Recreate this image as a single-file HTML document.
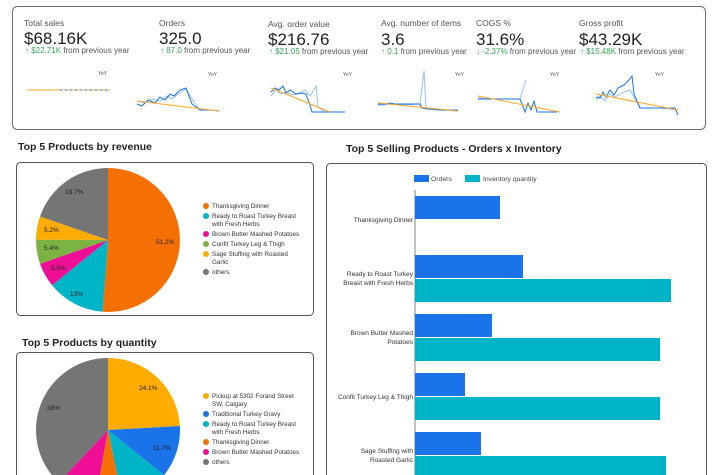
<!DOCTYPE html>
<html><head><meta charset="utf-8"><style>
html,body{margin:0;background:#fff;width:717px;height:475px;overflow:hidden;}
svg{display:block;font-family:"Liberation Sans",Arial,sans-serif;}
</style></head><body>
<svg width="717" height="475" viewBox="0 0 717 475">
<rect x="12.5" y="6.5" width="693" height="123" rx="5" fill="#fff" stroke="#6b6b6b" stroke-width="1"/>
<g font-size="8.5" fill="#555">
<text x="24" y="26">Total sales</text><text x="159" y="26">Orders</text><text x="268" y="27">Avg. order value</text>
<text x="381" y="26">Avg. number of items</text><text x="476" y="26">COGS %</text><text x="579" y="26">Gross profit</text>
</g>
<g font-size="17" fill="#222">
<text x="24" y="44">$68.16K</text><text x="159" y="44">325.0</text><text x="268" y="45">$216.76</text>
<text x="381" y="45">3.6</text><text x="476" y="45">31.6%</text><text x="579" y="45">$43.29K</text>
</g>
<g font-size="8" fill="#555">
<text x="25" y="53"><tspan fill="#34a853">↑ $22.71K</tspan> from previous year</text>
<text x="160" y="53"><tspan fill="#34a853">↑ 87.0</tspan> from previous year</text>
<text x="269" y="54"><tspan fill="#34a853">↑ $21.05</tspan> from previous year</text>
<text x="381" y="54"><tspan fill="#34a853">↑ 0.1</tspan> from previous year</text>
<text x="476" y="54"><tspan fill="#34a853">↓ -2.37%</tspan> from previous year</text>
<text x="580" y="54"><tspan fill="#34a853">↑ $15.48K</tspan> from previous year</text>
</g>
<g font-size="5" fill="#555">
<text x="98" y="75">YoY</text><text x="208" y="76">YoY</text><text x="343" y="76">YoY</text>
<text x="455" y="76">YoY</text><text x="550" y="76">YoY</text><text x="655" y="76">YoY</text>
</g>
<g fill="none" stroke-width="1">
<line x1="27" y1="90" x2="110" y2="90" stroke="#ffa726"/>
<line x1="60" y1="90" x2="110" y2="90" stroke="#1a73e8" stroke-dasharray="2 3"/>
<polyline points="137,101 145,103 152,99 160,101 167,96 172,99 178,94 186,89 192,99 200,110 210,110 220,111" stroke="#90c2f9"/>
<polyline points="137,104 142,106 148,100 155,103 160,97 165,100 170,94 174,96 180,90 186,88 192,104 200,110 210,110 219,111" stroke="#1a73e8"/>
<line x1="137" y1="101" x2="219" y2="111" stroke="#ffa726"/>
<polyline points="271,96 276,90 281,94 286,92 292,95 300,93 305,90 310,96 316,86 318,107 325,112 345,112" stroke="#90c2f9"/>
<polyline points="271,92 275,88 279,90 283,86 286,93 290,90 296,94 302,93 306,94 310,105 312,112 345,112" stroke="#1a73e8"/>
<line x1="271" y1="88" x2="330" y2="112" stroke="#ffa726"/>
<polyline points="378,105 385,105 390,104 400,105 420,104 424,71 426,109 440,110 458,111" stroke="#90c2f9"/>
<polyline points="378,104 385,104 390,103 395,104 400,104 420,104 422,108 430,109 440,110 458,110" stroke="#1a73e8"/>
<line x1="378" y1="103" x2="458" y2="111" stroke="#ffa726"/>
<polyline points="478,98 490,99 520,99 526,80" stroke="#90c2f9"/>
<polyline points="478,99 520,99 522,104 525,112 528,103 531,110 534,101 537,112 557,112" stroke="#1a73e8"/>
<line x1="478" y1="96" x2="560" y2="112" stroke="#ffa726"/>
<polyline points="596,100 600,96 605,101 610,94 615,97 622,93 630,90 634,97 640,108 660,108 678,110" stroke="#90c2f9"/>
<polyline points="596,97 600,98 603,92 606,97 610,90 614,95 618,88 624,85 628,81 632,76 634,94 640,108 675,108 678,115" stroke="#1a73e8"/>
<line x1="596" y1="94" x2="678" y2="110" stroke="#ffa726"/>
</g>
<g font-size="10.5" font-weight="bold" fill="#222">
<text x="18" y="150">Top 5 Products by revenue</text>
<text x="22" y="346">Top 5 Products by quantity</text>
<text x="346" y="152">Top 5 Selling Products - Orders x Inventory</text>
</g>
<rect x="16.5" y="162.5" width="297" height="153" rx="4" fill="#fff" stroke="#555"/>
<path d="M108,240 L108,168 A72,72 0 1 1 102.6,311.8 Z" fill="#f57002"/>
<path d="M108,240 L102.6,311.8 A72,72 0 0 1 52.1,285.3 Z" fill="#00b4c8"/>
<path d="M108,240 L52.1,285.3 A72,72 0 0 1 40,263.8 Z" fill="#ee0f96"/>
<path d="M108,240 L40,263.8 A72,72 0 0 1 36,239.6 Z" fill="#7cb342"/>
<path d="M108,240 L36,239.6 A72,72 0 0 1 40,216.5 Z" fill="#ffab00"/>
<path d="M108,240 L40,216.5 A72,72 0 0 1 108,168 Z" fill="#757575"/>
<g font-size="6.5" fill="#222">
<text x="156" y="244">51.2%</text><text x="70" y="296">13%</text><text x="51" y="270">5.5%</text>
<text x="44" y="250">5.4%</text><text x="44" y="232">5.2%</text><text x="65" y="194">19.7%</text>
</g>
<g font-size="6.3" fill="#333">
<circle cx="206" cy="206" r="3" fill="#f57002"/><text x="212" y="208">Thanksgiving Dinner</text>
<circle cx="206" cy="216" r="3" fill="#00b4c8"/><text x="212" y="218">Ready to Roast Turkey Breast</text><text x="212" y="226">with Fresh Herbs</text>
<circle cx="206" cy="234" r="3" fill="#ee0f96"/><text x="212" y="236">Brown Butter Mashed Potatoes</text>
<circle cx="206" cy="244" r="3" fill="#7cb342"/><text x="212" y="246">Confit Turkey Leg &amp; Thigh</text>
<circle cx="206" cy="254" r="3" fill="#ffab00"/><text x="212" y="256">Sage Stuffing with Roasted</text><text x="212" y="264">Garlic</text>
<circle cx="206" cy="272" r="3" fill="#757575"/><text x="212" y="274">others</text>
</g>
<rect x="16.5" y="352.5" width="297" height="140" rx="4" fill="#fff" stroke="#555"/>
<path d="M108,430 L108,358 A72,72 0 0 1 179.9,426 Z" fill="#ffab00"/>
<path d="M108,430 L179.9,426 A72,72 0 0 1 164,475.2 Z" fill="#1a73e8"/>
<path d="M108,430 L164,475.2 A72,72 0 0 1 122.4,500.6 Z" fill="#00b4c8"/>
<path d="M108,430 L122.4,500.6 A72,72 0 0 1 95.4,500.9 Z" fill="#f57002"/>
<path d="M108,430 L95.4,500.9 A72,72 0 0 1 58.7,482.5 Z" fill="#ee0f96"/>
<path d="M108,430 L58.7,482.5 A72,72 0 0 1 108,358 Z" fill="#757575"/>
<g font-size="6.5" fill="#222">
<text x="139" y="390">24.1%</text><text x="153" y="450">11.7%</text><text x="47" y="410">38%</text>
</g>
<g font-size="6.3" fill="#333">
<circle cx="206" cy="396" r="3" fill="#ffab00"/><text x="212" y="398">Pickup at 5302 Forand Street</text><text x="212" y="406">SW, Calgary</text>
<circle cx="206" cy="414" r="3" fill="#1a73e8"/><text x="212" y="416">Traditional Turkey Gravy</text>
<circle cx="206" cy="424" r="3" fill="#00b4c8"/><text x="212" y="426">Ready to Roast Turkey Breast</text><text x="212" y="434">with Fresh Herbs</text>
<circle cx="206" cy="442" r="3" fill="#f57002"/><text x="212" y="444">Thanksgiving Dinner</text>
<circle cx="206" cy="452" r="3" fill="#ee0f96"/><text x="212" y="454">Brown Butter Mashed Potatoes</text>
<circle cx="206" cy="462" r="3" fill="#757575"/><text x="212" y="464">others</text>
</g>
<rect x="326.5" y="163.5" width="380" height="330" rx="4" fill="#fff" stroke="#555"/>
<rect x="414" y="175" width="15" height="7" fill="#1a73e8"/><text x="431" y="181" font-size="6.8" fill="#444">Orders</text>
<rect x="465" y="175" width="15" height="7" fill="#00b4c8"/><text x="483" y="181" font-size="6.8" fill="#444">Inventory quantity</text>
<line x1="415" y1="190" x2="415" y2="475" stroke="#666" stroke-width="0.8"/>
<g fill="#1a73e8">
<rect x="415" y="196" width="85" height="23"/>
<rect x="415" y="255" width="108" height="23"/>
<rect x="415" y="314" width="77" height="23"/>
<rect x="415" y="373" width="50" height="23"/>
<rect x="415" y="432" width="66" height="23"/>
</g>
<g fill="#00b4c8">
<rect x="415" y="279" width="256" height="23"/>
<rect x="415" y="338" width="245" height="23"/>
<rect x="415" y="397" width="245" height="23"/>
<rect x="415" y="456" width="251" height="23"/>
</g>
<g font-size="6.5" fill="#333" text-anchor="end">
<text x="413" y="222">Thanksgiving Dinner</text>
<text x="413" y="276">Ready to Roast Turkey</text><text x="413" y="285">Breast with Fresh Herbs</text>
<text x="413" y="335">Brown Butter Mashed</text><text x="413" y="344">Potatoes</text>
<text x="413" y="399">Confit Turkey Leg &amp; Thigh</text>
<text x="413" y="453">Sage Stuffing with</text><text x="413" y="462">Roasted Garlic</text>
</g>
</svg>
</body></html>
